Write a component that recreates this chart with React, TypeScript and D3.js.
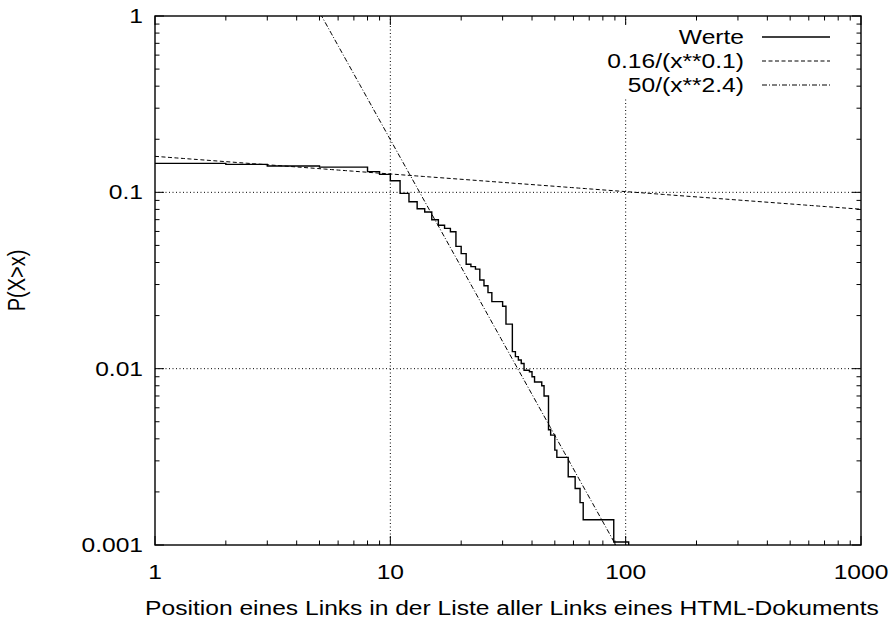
import React from "react";
import * as d3 from "d3";

// Step data: position x and P(X>x)
const positions = [1, 2, 3, 5, 8, 9, 10, 11, 12, 13, 14, 15, 16, 17, 18, 19, 20, 21, 22, 23, 24, 25, 26, 27, 30, 31, 33, 34, 35, 36, 37, 39, 40, 41, 44, 45, 47, 48, 50, 51, 57, 61, 64, 66, 89, 103];
const probs = [0.146, 0.144, 0.141, 0.139, 0.131, 0.1265, 0.1164, 0.0987, 0.0885, 0.0807, 0.0773, 0.0699, 0.065, 0.0625, 0.0598, 0.0494, 0.0449, 0.0391, 0.0379, 0.0367, 0.0318, 0.0295, 0.027, 0.024, 0.0226, 0.0179, 0.0125, 0.0117, 0.0112, 0.0107, 0.0098, 0.0096, 0.009, 0.0084, 0.008, 0.007, 0.0045, 0.0042, 0.00345, 0.00314, 0.00244, 0.00209, 0.00174, 0.00139, 0.00104, 0.0008];

const xTicks = [1, 10, 100, 1000];
const xTickLabels = ["1", "10", "100", "1000"];
const yTicks = [0.001, 0.01, 0.1, 1];
const yTickLabels = ["0.001", "0.01", "0.1", "1"];
const legendLabels = ["Werte", "0.16/(x**0.1)", "50/(x**2.4)"];
const xTitle = "Position eines Links in der Liste aller Links eines HTML-Dokuments";
const yTitle = "P(X>x)";

const fit1 = (x: number) => 0.16 / Math.pow(x, 0.1);
const fit2 = (x: number) => 50 / Math.pow(x, 2.4);

const W = 893, H = 621;
const L = 155, R = 861, T = 16, B = 545;
const FONT = "'Liberation Sans', Arial, Helvetica, sans-serif";
const FS = 20;
const SX = 1.23;

export default function App() {
  const x = d3.scaleLog().domain([1, 1000]).range([L, R]);
  const y = d3.scaleLog().domain([0.001, 1]).range([B, T]);

  const minor = (majors: number[]) => {
    const out: number[] = [];
    for (let i = 0; i < majors.length - 1; i++) for (let k = 2; k <= 9; k++) out.push(majors[i] * k);
    return out;
  };
  const xMinor = minor(xTicks);
  const yMinor = minor(yTicks);

  const data = positions.map((p, i) => [p, probs[i]] as [number, number]);
  const stepLine = d3.line<[number, number]>().x(d => x(d[0])).y(d => y(d[1])).curve(d3.curveStepAfter);

  const samples = d3.range(0, 101).map(i => Math.pow(10, (3 * i) / 100));
  const f1Path = d3.line<number>().x(d => x(d)).y(d => y(fit1(d)))(samples) || "";
  const f2Path = d3.line<number>().x(d => x(d)).y(d => y(fit2(d)))(samples) || "";

  const MAJ = 9, MIN = 4.5;
  const legendY = [37, 61, 85];
  const legendDash = ["", "4,2.5", "5,2,1,2"];

  return (
    <svg width={W} height={H} style={{ display: "block", position: "absolute", left: 0, top: 0 }} fontFamily={FONT}>
      <defs>
        <clipPath id="plot"><rect x={L} y={T} width={R - L} height={B - T} /></clipPath>
      </defs>
      <rect width={W} height={H} fill="#fff" />
      {/* grid */}
      <g stroke="#000" strokeWidth={1} strokeDasharray="1,2.5">
        {xTicks.slice(1, -1).map(t => <line key={"gx" + t} x1={x(t)} x2={x(t)} y1={B} y2={T} />)}
        {yTicks.slice(1, -1).map(t => <line key={"gy" + t} x1={L} x2={R} y1={y(t)} y2={y(t)} />)}
      </g>
      {/* key background */}
      <rect x={598} y={26} width={252} height={73} fill="#fff" />
      {/* ticks */}
      <g stroke="#000" strokeWidth={1}>
        {xTicks.map(t => <g key={"tx" + t}>
          <line x1={x(t)} x2={x(t)} y1={B} y2={B - MAJ} />
          <line x1={x(t)} x2={x(t)} y1={T} y2={T + MAJ} />
        </g>)}
        {xMinor.map(t => <g key={"mx" + t}>
          <line x1={x(t)} x2={x(t)} y1={B} y2={B - MIN} />
          <line x1={x(t)} x2={x(t)} y1={T} y2={T + MIN} />
        </g>)}
        {yTicks.map(t => <g key={"ty" + t}>
          <line x1={L} x2={L + MAJ} y1={y(t)} y2={y(t)} />
          <line x1={R} x2={R - MAJ} y1={y(t)} y2={y(t)} />
        </g>)}
        {yMinor.map(t => <g key={"my" + t}>
          <line x1={L} x2={L + MIN} y1={y(t)} y2={y(t)} />
          <line x1={R} x2={R - MIN} y1={y(t)} y2={y(t)} />
        </g>)}
      </g>
      {/* curves */}
      <g clipPath="url(#plot)" fill="none" stroke="#000">
        <path d={f1Path} strokeWidth={1} strokeDasharray="4,2.5" />
        <path d={f2Path} strokeWidth={1} strokeDasharray="5,2,1,2" />
        <path d={stepLine(data) || ""} strokeWidth={1.4} />
      </g>
      {/* border */}
      <rect x={L} y={T} width={R - L} height={B - T} fill="none" stroke="#000" strokeWidth={1.4} />
      {/* tick labels */}
      <g fontSize={FS} fill="#000">
        {xTicks.map((t, i) => (
          <text key={"lx" + t} transform={`translate(${x(t)},${579}) scale(${SX},1)`} textAnchor="middle">{xTickLabels[i]}</text>
        ))}
        {yTicks.map((t, i) => (
          <text key={"ly" + t} transform={`translate(${143},${y(t) + 7}) scale(${SX},1)`} textAnchor="end">{yTickLabels[i]}</text>
        ))}
        <text transform={`translate(${(L + R) / 2 + 4},${615}) scale(${SX},1)`} textAnchor="middle">{xTitle}</text>
        <text transform={`translate(${25},${(T + B) / 2}) scale(${SX},1) rotate(-90)`} textAnchor="middle">{yTitle}</text>
      </g>
      {/* legend */}
      <g fontSize={FS}>
        {legendLabels.map((lab, i) => (
          <g key={"lg" + i}>
            <text transform={`translate(${744},${legendY[i] + 7}) scale(${SX},1)`} textAnchor="end">{lab}</text>
            <line x1={762} x2={830} y1={legendY[i]} y2={legendY[i]} stroke="#000" strokeWidth={i === 0 ? 1.4 : 1} strokeDasharray={legendDash[i] || undefined} />
          </g>
        ))}
      </g>
    </svg>
  );
}
